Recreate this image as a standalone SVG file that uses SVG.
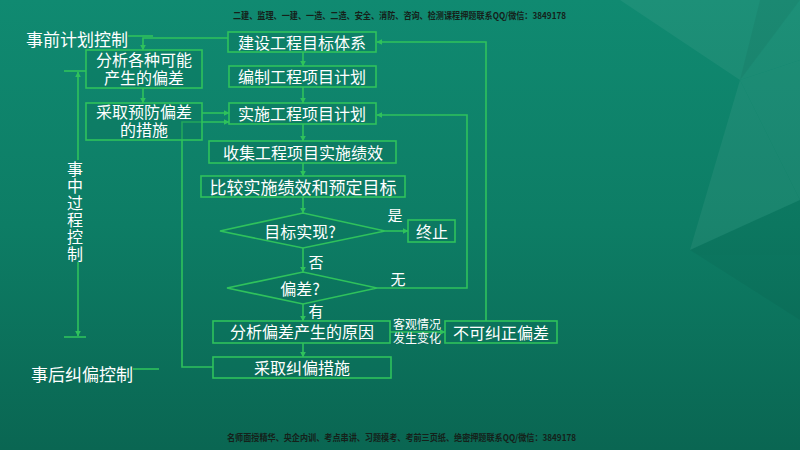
<svg xmlns="http://www.w3.org/2000/svg" width="800" height="450" viewBox="0 0 800 450">
<defs>
<linearGradient id="bg" x1="0" y1="0" x2="0" y2="1">
<stop offset="0" stop-color="#108a71"/>
<stop offset="0.5" stop-color="#0d7d65"/>
<stop offset="1" stop-color="#0a6652"/>
</linearGradient>
<marker id="ah" viewBox="0 0 10 10" refX="9" refY="5" markerWidth="6" markerHeight="6" orient="auto-start-reverse" markerUnits="userSpaceOnUse">
<path d="M0,0 L10,5 L0,10 z" fill="#2fc25c"/>
</marker>
<style>
.box{fill:#0c735c;fill-opacity:0.35;stroke:#2fc25c;stroke-width:1.6}
.ln{fill:none;stroke:#2fc25c;stroke-width:1.6}
.t{font-family:"Noto Sans CJK SC","Noto Sans",sans-serif;fill:#ffffff;font-size:16px;text-anchor:middle;dominant-baseline:central}
.t2{font-family:"Liberation Sans","Noto Sans CJK SC",sans-serif}
.s{font-family:"Liberation Sans","Noto Sans CJK SC",sans-serif;fill:#ffffff;font-size:12px;text-anchor:middle;dominant-baseline:central}
.w{font-family:"Noto Sans CJK SC","Noto Sans",sans-serif;fill:#15211a;font-size:9px;font-weight:700;dominant-baseline:central}
</style>
</defs>
<rect width="800" height="450" fill="url(#bg)"/>
<g opacity="0.05" fill="#ffffff">
<polygon points="620,0 800,0 800,60 740,80"/>
<polygon points="740,80 800,60 800,200"/>
<polygon points="740,80 800,200 690,250"/>
</g>
<g opacity="0.04" fill="#000000">
<polygon points="760,0 800,0 740,80"/>
<polygon points="690,250 800,200 800,320"/>
</g>
<text class="w" x="233" y="15" textLength="333" lengthAdjust="spacingAndGlyphs">二建、监理、一建、一造、二造、安全、消防、咨询、检测课程押题联系QQ/微信：3849178</text>
<text class="w" x="227" y="437" textLength="349" lengthAdjust="spacingAndGlyphs">名师面授精华、央企内训、考点串讲、习题模考、考前三页纸、绝密押题联系QQ/微信：3849178</text>

<g id="connectors">
<line class="ln" x1="303" y1="52" x2="303" y2="66" marker-end="url(#ah)"/>
<line class="ln" x1="303" y1="87" x2="303" y2="103" marker-end="url(#ah)"/>
<line class="ln" x1="303" y1="124" x2="303" y2="141" marker-end="url(#ah)"/>
<line class="ln" x1="303" y1="163" x2="303" y2="176" marker-end="url(#ah)"/>
<line class="ln" x1="303" y1="197" x2="303" y2="213" marker-end="url(#ah)"/>
<line class="ln" x1="303" y1="248" x2="303" y2="272" marker-end="url(#ah)"/>
<line class="ln" x1="303" y1="304" x2="303" y2="321" marker-end="url(#ah)"/>
<line class="ln" x1="303" y1="343" x2="303" y2="357" marker-end="url(#ah)"/>
<line class="ln" x1="385" y1="231" x2="408" y2="231" marker-end="url(#ah)"/>
<polyline class="ln" points="377,288 467,288 467,115 377,115" marker-end="url(#ah)"/>
<line class="ln" x1="390" y1="332" x2="445" y2="332" marker-end="url(#ah)"/>
<polyline class="ln" points="486,321 486,42 377,42" marker-end="url(#ah)"/>
<polyline class="ln" points="228,38 143,38 143,50" marker-end="url(#ah)"/>
<line class="ln" x1="128" y1="36" x2="153" y2="36"/>
<line class="ln" x1="143" y1="88" x2="143" y2="103" marker-end="url(#ah)"/>
<line class="ln" x1="202" y1="113" x2="229" y2="113" marker-end="url(#ah)"/>
<polyline class="ln" points="213,367 182,367 182,122 229,122" marker-end="url(#ah)"/>
<line class="ln" x1="64" y1="71" x2="86" y2="71"/>
<line class="ln" x1="64" y1="337" x2="86" y2="337"/>
<line class="ln" x1="78" y1="160" x2="78" y2="72" marker-end="url(#ah)"/>
<line class="ln" x1="78" y1="262" x2="78" y2="336" marker-end="url(#ah)"/>
<line class="ln" x1="133" y1="369" x2="159" y2="369"/>
</g>

<g id="pre-label"><text class="t" x="77" y="38" style="font-size:17px">事前计划控制</text></g>
<g id="mid-label"><text class="t" x="75" y="212" style="writing-mode:vertical-rl;letter-spacing:1px">事中过程控制</text></g>
<g id="post-label"><text class="t" x="82" y="373" style="font-size:17px">事后纠偏控制</text></g>

<g id="n-target"><rect class="box" x="228" y="32" width="148" height="20"/><text class="t" x="302" y="42">建设工程目标体系</text></g>
<g id="n-plan"><rect class="box" x="229" y="66" width="147" height="21"/><text class="t" x="302" y="76">编制工程项目计划</text></g>
<g id="n-impl"><rect class="box" x="229" y="103" width="147" height="21"/><text class="t" x="302" y="113">实施工程项目计划</text></g>
<g id="n-analyze-possible"><rect class="box" x="86" y="50" width="116" height="38"/><text class="t t2" x="144" y="60"><tspan x="144">分析各种可能</tspan><tspan x="144" dy="18">产生的偏差</tspan></text></g>
<g id="n-prevent"><rect class="box" x="86" y="103" width="116" height="37"/><text class="t t2" x="144" y="112"><tspan x="144">采取预防偏差</tspan><tspan x="144" dy="18">的措施</tspan></text></g>
<g id="n-collect"><rect class="box" x="209" y="141" width="187" height="22"/><text class="t" x="303" y="152">收集工程项目实施绩效</text></g>
<g id="n-compare"><rect class="box" x="201" y="176" width="204" height="21"/><text class="t" x="303" y="186" style="font-size:17px">比较实施绩效和预定目标</text></g>
<g id="n-achieved"><polygon class="box" points="220,231 303,213 385,231 303,248"/><text class="t" x="300" y="231">目标实现?</text></g>
<g id="n-stop"><rect class="box" x="408" y="220" width="47" height="22"/><text class="t" x="432" y="231">终止</text></g>
<g id="n-deviation"><polygon class="box" points="227,288 303,272 377,288 303,304"/><text class="t" x="300" y="288">偏差?</text></g>
<g id="n-cause"><rect class="box" x="213" y="321" width="177" height="22"/><text class="t t2" x="302" y="332">分析偏差产生的原因</text></g>
<g id="n-uncorrectable"><rect class="box" x="445" y="321" width="112" height="22"/><text class="t" x="501" y="332">不可纠正偏差</text></g>
<g id="n-correct"><rect class="box" x="213" y="357" width="178" height="21"/><text class="t" x="302" y="367">采取纠偏措施</text></g>

<g id="edge-labels">
<text class="t" x="395" y="214" style="font-size:15px">是</text>
<text class="t" x="316" y="261" style="font-size:15px">否</text>
<text class="t" x="398" y="278" style="font-size:15px">无</text>
<text class="t t2" x="316" y="311" style="font-size:15px">有</text>
<text class="s" x="417" y="325"><tspan x="417">客观情况</tspan><tspan x="417" dy="14">发生变化</tspan></text>
</g>
</svg>
